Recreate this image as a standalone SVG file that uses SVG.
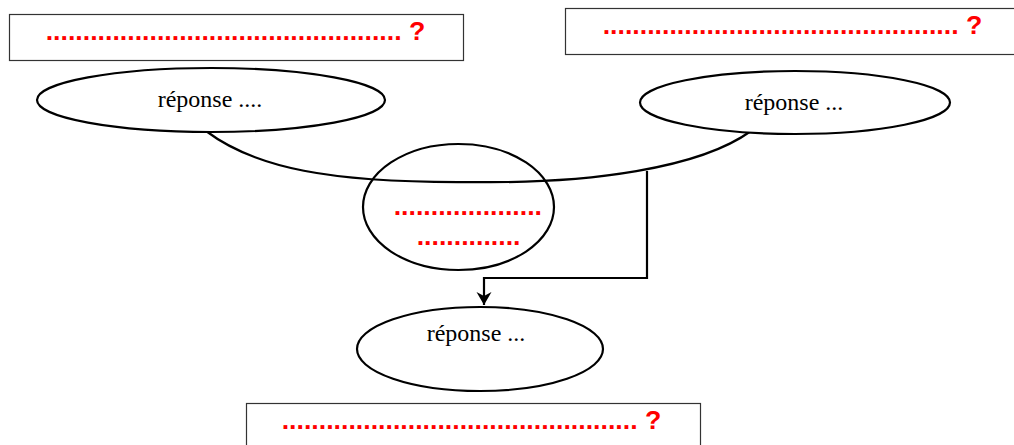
<svg xmlns="http://www.w3.org/2000/svg" width="1014" height="445" viewBox="0 0 1014 445">
  <style>
    .box { fill: #ffffff; stroke: #333333; stroke-width: 1.2; }
    .node { fill: #ffffff; stroke: #000000; stroke-width: 2.2; }
    .ring { fill: none; stroke: #000000; stroke-width: 2.2; }
    .blank { font-family: "Liberation Sans", Arial, sans-serif; font-weight: bold; font-size: 26.7px; fill: #ff0000; }
    .label { font-family: "Liberation Serif", "Times New Roman", serif; font-size: 24px; fill: #000000; text-anchor: middle; }
    .wire { fill: none; stroke: #000000; stroke-width: 2.2; }
  </style>
  <defs>
    <marker id="arrow" markerUnits="userSpaceOnUse" markerWidth="16" markerHeight="16" refX="13" refY="7.5" orient="auto">
      <path d="M0,0 L13,7.5 L0,15 L4,7.5 Z" fill="#000000"/>
    </marker>
  </defs>

  <rect width="1014" height="445" fill="#ffffff"/>

  <!-- question boxes -->
  <g id="question-left">
    <rect class="box" x="9.5" y="14.5" width="454" height="46"/>
    <text class="blank" x="45.7" y="40">................................................ ?</text>
  </g>
  <g id="question-right">
    <rect class="box" x="565.5" y="8.5" width="460" height="46"/>
    <text class="blank" x="602.7" y="34">................................................ ?</text>
  </g>
  <g id="question-bottom">
    <rect class="box" x="246.5" y="403.5" width="454" height="50"/>
    <text class="blank" x="281.7" y="429">................................................ ?</text>
  </g>

  <!-- connectors -->
  <g id="connectors">
    <path class="wire" d="M206,131 C255,168 330,183 470,182 C590,184 700,168 751,131"/>
    <path class="wire" d="M647,171 V278 H484 V305" marker-end="url(#arrow)"/>
  </g>

  <!-- answer ellipses -->
  <g id="answer-left">
    <ellipse class="node" cx="211" cy="100" rx="174" ry="32"/>
    <text class="label" x="210" y="107">réponse ....</text>
  </g>
  <g id="answer-right">
    <ellipse class="node" cx="795" cy="102.5" rx="155" ry="31.5"/>
    <text class="label" x="794" y="109.5">réponse ...</text>
  </g>
  <g id="junction">
    <ellipse class="ring" cx="458.5" cy="207" rx="95.5" ry="63"/>
    <text class="blank" x="393.7" y="214.7">....................</text>
    <text class="blank" x="416.7" y="244.7">..............</text>
  </g>
  <g id="answer-bottom">
    <ellipse class="node" cx="480" cy="349" rx="123" ry="42"/>
    <text class="label" x="476" y="341">réponse ...</text>
  </g>
</svg>
